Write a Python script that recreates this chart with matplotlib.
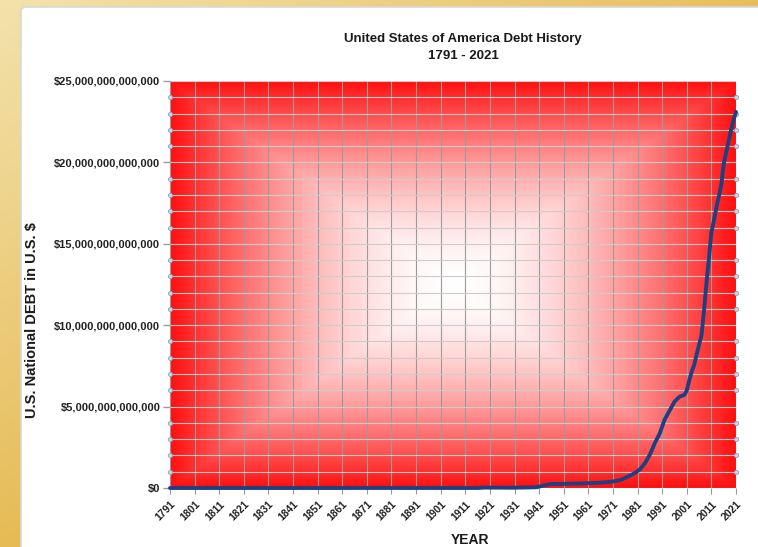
import numpy as np
import matplotlib
matplotlib.use("Agg")
import matplotlib.pyplot as plt
from matplotlib.ticker import MultipleLocator, FuncFormatter
from matplotlib.patches import FancyBboxPatch

plt.rcParams['font.family'] = ['Liberation Sans', 'DejaVu Sans']

# debt history (trillions of dollars)
years = [1791, 1800, 1810, 1820, 1830, 1835, 1840, 1850, 1860, 1866, 1880,
         1900, 1916, 1919, 1930, 1940, 1944, 1946, 1950, 1955, 1960, 1965,
         1968, 1971, 1974, 1977, 1980, 1982, 1984, 1986, 1988, 1990, 1992,
         1994, 1996, 1998, 2000, 2001, 2002, 2003, 2004, 2005, 2006, 2007,
         2008, 2009, 2010, 2011, 2012, 2013, 2014, 2015, 2016, 2017, 2018,
         2019, 2020, 2021]
debt_tn = [0.00008, 0.00008, 0.00005, 0.00009, 0.00005, 0.0, 0.000004,
           0.00006, 0.00006, 0.0028, 0.002, 0.0012, 0.0012, 0.025, 0.016,
           0.045, 0.2, 0.25, 0.25, 0.27, 0.29, 0.32, 0.35, 0.40, 0.49, 0.69,
           0.93, 1.15, 1.52, 2.05, 2.75, 3.35, 4.2, 4.75, 5.3, 5.6, 5.72,
           6.0, 6.6, 7.15, 7.55, 8.2, 8.8, 9.4, 10.9, 12.6, 14.1, 15.7, 16.4,
           17.2, 17.9, 18.6, 19.9, 20.6, 21.3, 22.0, 22.6, 23.1]
debt = np.array(debt_tn) * 1e12

x_ticks = list(range(1791, 2022, 10))

fig = plt.figure(figsize=(7.58, 5.47), dpi=100)

# gold page background + white card
bg = fig.add_axes([0, 0, 1, 1], zorder=-10)
bg.axis('off')
gy, gx = np.mgrid[0:1:200j, 0:1:300j]
s = np.clip(0.55 * gx + 0.6 * gy, 0, 1)[..., None]
light = np.array([243, 226, 172]) / 255
gold = np.array([222, 162, 30]) / 255
bg.imshow(light * (1 - s) + gold * s, extent=[0, 1, 0, 1], aspect='auto')
card = FancyBboxPatch((21 / 758, -0.05), 1.0, (547 - 7) / 547 + 0.05,
                      boxstyle="round,pad=0,rounding_size=0.008",
                      facecolor='white', edgecolor='#d8d8d8', linewidth=1.2)
bg.add_patch(card)
bg.set_xlim(0, 1)
bg.set_ylim(0, 1)

ax = fig.add_axes([170 / 758, 1 - 488 / 547, 566 / 758, 407 / 547])

# white-to-red rectangular gradient in the plot area
ny, nx = 300, 400
v, u = np.mgrid[-1:1:ny * 1j, -1:1:nx * 1j]
t = np.maximum(np.abs(u), np.abs(v)) ** 1.7
red = np.array([255, 15, 15]) / 255
grad = np.ones(3) * (1 - t[..., None]) + red * t[..., None]
ax.imshow(grad, extent=[1791, 2021, 0, 25e12], aspect='auto', zorder=0)

ax.plot(years, debt, color='#203f80', linewidth=2.8, zorder=3,
        solid_capstyle='round', clip_on=False)

ax.set_xlim(1791, 2021)
ax.set_ylim(0, 25e12)
ax.set_xticks(x_ticks)
ax.yaxis.set_major_locator(MultipleLocator(5e12))
ax.yaxis.set_minor_locator(MultipleLocator(1e12))
ax.yaxis.set_major_formatter(FuncFormatter(lambda val, pos: '${:,.0f}'.format(val)))

ax.grid(True, axis='x', color='#9a9a9a', linewidth=0.8, zorder=1)
ax.grid(True, axis='y', which='both', color='#cccccc', linewidth=0.8, zorder=1)

for sp in ax.spines.values():
    sp.set_visible(False)

ax.tick_params(axis='y', which='major', left=True, right=False, length=5,
               color='#999999', width=1, pad=2, labelsize=8)
ax.tick_params(axis='y', which='minor', left=True, right=True)
for tk in ax.yaxis.get_minor_ticks():
    for ln in (tk.tick1line, tk.tick2line):
        ln.set_marker('o')
        ln.set_markersize(3)
        ln.set_markerfacecolor('#c8d4e8')
        ln.set_markeredgecolor('#8fa3c4')
        ln.set_markeredgewidth(0.6)
ax.tick_params(axis='x', length=4, color='#999999', labelsize=7.5, pad=4)
for lab in ax.get_yticklabels():
    lab.set_fontweight('bold')
    lab.set_color('#222222')
for lab in ax.get_xticklabels():
    lab.set_fontweight('bold')
    lab.set_rotation(45)
    lab.set_ha('right')
    lab.set_rotation_mode('anchor')
    lab.set_color('#222222')

fig.text(463 / 758, 1 - 39 / 547, 'United States of America Debt History',
         ha='center', va='center', fontsize=9.5, fontweight='bold', color='#1a1a1a')
fig.text(463 / 758, 1 - 56 / 547, '1791 - 2021',
         ha='center', va='center', fontsize=9.5, fontweight='bold', color='#1a1a1a')
fig.text(32 / 758, 1 - 320 / 547, 'U.S. National DEBT in U.S. $', rotation=90,
         ha='center', va='center', fontsize=10.5, fontweight='bold', color='#1a1a1a')
fig.text(470 / 758, 1 - 533 / 547, 'YEAR', ha='center', va='top',
         fontsize=10, fontweight='bold', color='#1a1a1a')

fig.savefig('out.png', dpi=100)
